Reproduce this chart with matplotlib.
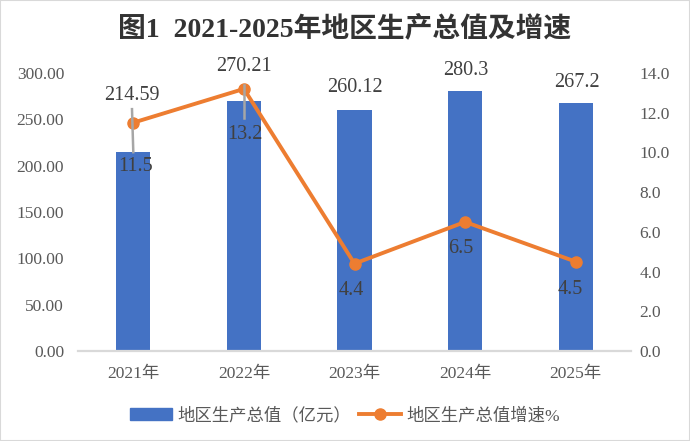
import matplotlib
matplotlib.use("Agg")
import matplotlib.pyplot as plt
from matplotlib.lines import Line2D
from matplotlib.patches import Rectangle

plt.rcParams['font.family'] = ['Liberation Serif', 'Noto Sans CJK SC']

years = ["2021年", "2022年", "2023年", "2024年", "2025年"]
gdp = [214.59, 270.21, 260.12, 280.3, 267.2]
growth = [11.5, 13.2, 4.4, 6.5, 4.5]
gdp_labels = ["214.59", "270.21", "260.12", "280.3", "267.2"]
growth_labels = ["11.5", "13.2", "4.4", "6.5", "4.5"]
left_ticks = [0, 50, 100, 150, 200, 250, 300]
right_ticks = [0, 2, 4, 6, 8, 10, 12, 14]

BLUE = "#4472C4"
ORANGE = "#ED7D31"
TXT = "#595959"
LBL = "#404040"

W, H = 690, 441
fig = plt.figure(figsize=(W / 100, H / 100), dpi=100)
ax = fig.add_axes([78 / W, 90 / H, (631 - 78) / W, 278 / H])
ax2 = ax.twinx()

x = list(range(len(years)))
ax.bar(x, gdp, width=0.31, color=BLUE, zorder=2)
ax.set_xlim(-0.5, 4.5)
ax.set_ylim(0, 300)
ax.set_yticks(left_ticks)
ax.set_yticklabels([f"{v:.2f}" for v in left_ticks])
ax.set_xticks(x)
ax.set_xticklabels(years)

ax2.plot(x, growth, color=ORANGE, lw=2.8, marker='o', ms=8, zorder=3)
ax2.set_ylim(0, 14)
ax2.set_yticks(right_ticks)
ax2.set_yticklabels([f"{v:.1f}" for v in right_ticks])

for a in (ax, ax2):
    for s in a.spines.values():
        s.set_visible(False)
    a.tick_params(length=0, labelsize=12.5, colors=TXT)
ax.spines['bottom'].set_visible(True)
ax.spines['bottom'].set_color("#D9D9D9")
ax.spines['bottom'].set_linewidth(1.6)
ax.tick_params(axis='y', pad=10)
ax.tick_params(axis='x', pad=11)
ax2.tick_params(axis='y', pad=6)

px = 0.72  # points per pixel at dpi 100
# bar label offsets in pixels (dx, dy up)
bar_off = [(-1, 57), (0, 34), (0, 22), (1, 21), (1, 21)]
for i, (v, t) in enumerate(zip(gdp, gdp_labels)):
    dx, dy = bar_off[i]
    ax.annotate(t, xy=(i, v), xytext=(dx * px, dy * px), textcoords='offset points',
                ha='center', va='center', fontsize=14.5, color=LBL, zorder=5)

line_off = [(2, -44), (1, -46), (-3, -27), (-4, -27), (-5, -28)]
for i, (v, t) in enumerate(zip(growth, growth_labels)):
    dx, dy = line_off[i]
    ax2.annotate(t, xy=(i, v), xytext=(dx * px, dy * px), textcoords='offset points',
                 ha='center', va='center', fontsize=14.5, color=LBL, zorder=5)

# leader lines (pixel offsets relative to bar tops)
fig.canvas.draw()
leaders = [(0, (-1.3, -43), (0, 0)), (1, (0, -16), (0, 17))]
for i, (dx1, dy1), (dx2, dy2) in leaders:
    bx, by = ax.transData.transform((i, gdp[i]))
    fig.add_artist(Line2D([bx + dx1, bx + dx2], [by - dy1, by - dy2], transform=None,
                          color="#A6A6A6", lw=1.8, zorder=4))

fig.suptitle("图1  2021-2025年地区生产总值及增速", x=0.5, y=1 - 29 / H, va='center',
             fontsize=20, fontweight='bold', color="#333333")

h1 = Rectangle((0, 0), 1, 1, color=BLUE)
h2 = Line2D([], [], color=ORANGE, lw=2.8, marker='o', ms=8)
fig.legend([h1, h2], ["地区生产总值（亿元）", "地区生产总值增速%"], loc='center',
           bbox_to_anchor=(0.5, 1 - 416 / H), ncol=2, frameon=False, fontsize=12.5,
           handlelength=2.4, handleheight=0.7, columnspacing=0.5, handletextpad=0.3,
           labelcolor=TXT)

fig.add_artist(Rectangle((0, 0), 1, 1, transform=fig.transFigure, fill=False,
                         edgecolor="#D9D9D9", lw=1.5))

fig.savefig("out.png", dpi=100)
